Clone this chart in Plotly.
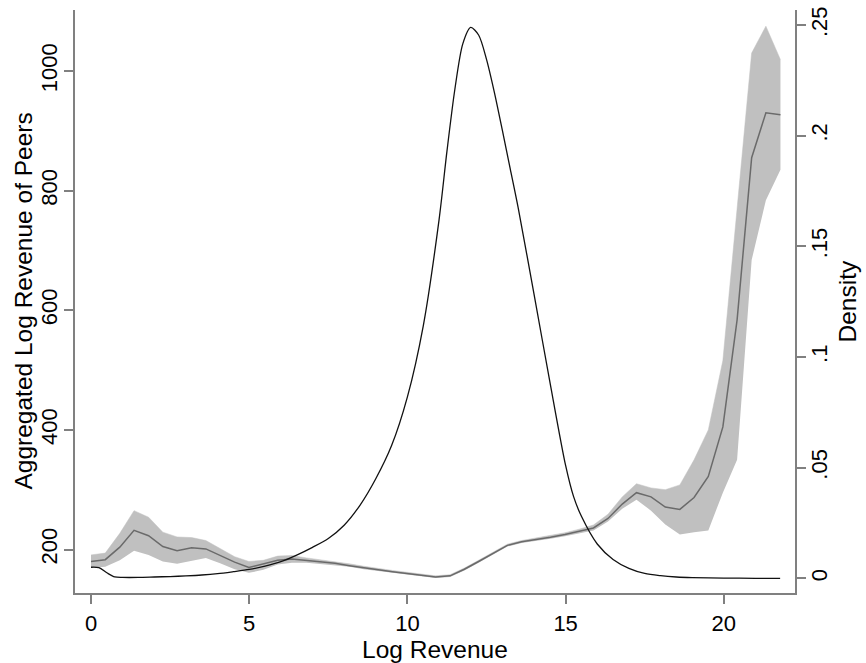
import plotly.graph_objects as go

# Binned peer revenue (left axis)
bin_x = [0.00, 0.45, 0.91, 1.36, 1.82, 2.27, 2.72, 3.18, 3.63, 4.08,
         4.54, 4.99, 5.45, 5.90, 6.35, 6.81, 7.26, 7.71, 8.17, 8.62,
         9.08, 9.53, 9.98, 10.44, 10.89, 11.35, 11.80, 12.25, 12.71, 13.16,
         13.61, 14.07, 14.52, 14.98, 15.43, 15.88, 16.34, 16.79, 17.24, 17.70,
         18.15, 18.61, 19.06, 19.51, 19.97, 20.42, 20.88, 21.33, 21.79]
peer_mean = [180, 183, 204, 232, 223, 205, 198, 203, 201, 190,
             179, 170, 176, 182, 184, 182, 179, 177, 173, 169,
             166, 163, 160, 157, 154, 156, 167, 180, 194, 207,
             213, 216.5, 220.5, 225, 230, 236, 252, 276, 295, 288,
             271, 267, 287, 322, 405, 584, 855, 930, 927]
peer_upper = [191, 194, 227, 265, 254, 229, 221, 220, 215, 201,
              188, 180, 182, 189, 190, 186, 183, 180, 176, 172,
              168, 165, 162, 159, 156, 158, 169, 182, 196, 209,
              215, 219, 223, 228, 234, 241, 259, 288, 310, 303,
              300, 308, 350, 400, 516, 770, 1030, 1075, 1019]
peer_lower = [169, 171, 182, 198, 191, 180, 176, 181, 186, 177,
              167, 161, 166, 175, 178, 178, 176, 174, 171, 167,
              164, 161, 158, 155, 152.5, 154, 165, 178, 192, 205,
              211, 214, 218, 222, 227, 232, 247, 268, 283, 265,
              242, 225, 229, 232, 295, 350, 684, 784, 835]

# Kernel density of log revenue (right axis)
dens_x = [0.0, 0.25, 0.5, 0.75, 1.0, 1.5, 2.0, 2.5, 3.0, 3.5, 4.0, 4.5, 5.0, 5.5,
          6.0, 6.5, 7.0, 7.5, 8.0, 8.5, 9.0, 9.5, 10.0, 10.5, 11.0, 11.25, 11.5,
          11.75, 12.0, 12.25, 12.5, 12.75, 13.0, 13.25, 13.5, 14.0, 14.5, 15.0,
          15.25, 15.5, 16.0, 16.5, 17.0, 17.5, 18.0, 18.5, 19.0, 20.0, 21.0, 21.78]
dens_y = [0.0050, 0.0048, 0.0025, 0.0006, 0.0004, 0.0004, 0.0006, 0.0008, 0.0011,
          0.0015, 0.0021, 0.0030, 0.0040, 0.0055, 0.0075, 0.0105, 0.0140, 0.0180,
          0.0240, 0.0330, 0.0450, 0.0600, 0.0820, 0.1140, 0.1620, 0.1930, 0.2210,
          0.2415, 0.2489, 0.2455, 0.2345, 0.2195, 0.2025, 0.1850, 0.1675, 0.1285,
          0.0890, 0.0510, 0.0370, 0.0280, 0.0155, 0.0085, 0.0045, 0.0022, 0.0012,
          0.0006, 0.0003, 0.0001, 0.0000, 0.0000]

x_ticks = [0, 5, 10, 15, 20]
left_ticks = [200, 400, 600, 800, 1000]
right_ticks = [0, 0.05, 0.1, 0.15, 0.2, 0.25]
right_labels = ["0", ".05", ".1", ".15", ".2", ".25"]

FONT = "Arial, Liberation Sans, Helvetica, sans-serif"
AXC = "#808080"
TITLE_SIZE = 24.5

fig = go.Figure()
fig.add_trace(go.Scatter(x=bin_x, y=peer_lower, mode="lines",
                         line=dict(width=0, color="#c0c0c0"), showlegend=False,
                         hoverinfo="skip"))
fig.add_trace(go.Scatter(x=bin_x, y=peer_upper, mode="lines", fill="tonexty",
                         fillcolor="#c0c0c0", line=dict(width=0.5, color="#c0c0c0"),
                         showlegend=False, hoverinfo="skip"))
fig.add_trace(go.Scatter(x=bin_x, y=peer_mean, mode="lines",
                         line=dict(width=1.5, color="#6a6a6a"), showlegend=False))
fig.add_trace(go.Scatter(x=dens_x, y=dens_y, mode="lines", yaxis="y2",
                         line=dict(width=1.3, color="#111111", shape="spline", smoothing=0.8),
                         showlegend=False))

axis_common = dict(showline=True, linecolor=AXC, linewidth=2, ticks="outside",
                   ticklen=9, tickwidth=2, tickcolor=AXC, showgrid=False,
                   zeroline=False, automargin=False,
                   tickfont=dict(family=FONT, size=22, color="black"))

fig.update_layout(
    width=866, height=663,
    margin=dict(l=75, r=71, t=10, b=70),
    plot_bgcolor="white", paper_bgcolor="white",
    font=dict(family=FONT, color="black"),
    xaxis=dict(range=[-0.506, 22.25], tickvals=x_ticks,
               ticklabelstandoff=1, **axis_common),
    yaxis=dict(range=[127.3, 1102], tickvals=left_ticks, tickangle=-90,
               ticklabelstandoff=-2, **axis_common),
    yaxis2=dict(range=[-0.00664, 0.2568], tickvals=right_ticks, ticktext=right_labels,
                tickangle=-90, overlaying="y", side="right",
                ticklabelstandoff=-5, **axis_common),
    annotations=[
        dict(text="Log Revenue", xref="paper", yref="paper", x=0.5, y=-0.097,
             xanchor="center", yanchor="middle", showarrow=False,
             font=dict(family=FONT, size=TITLE_SIZE, color="black")),
        dict(text="Aggregated Log Revenue of Peers", xref="paper", yref="paper",
             x=-0.0722, y=0.5, textangle=-90, xanchor="center", yanchor="middle",
             showarrow=False, font=dict(family=FONT, size=TITLE_SIZE, color="black")),
        dict(text="Density", xref="paper", yref="paper",
             x=1.0736, y=0.5, textangle=-90, xanchor="center", yanchor="middle",
             showarrow=False, font=dict(family=FONT, size=TITLE_SIZE, color="black")),
    ],
)

fig.write_html("out.html", config={"displayModeBar": False},
               post_script="document.body.style.margin='0';document.body.style.overflow='hidden';")
